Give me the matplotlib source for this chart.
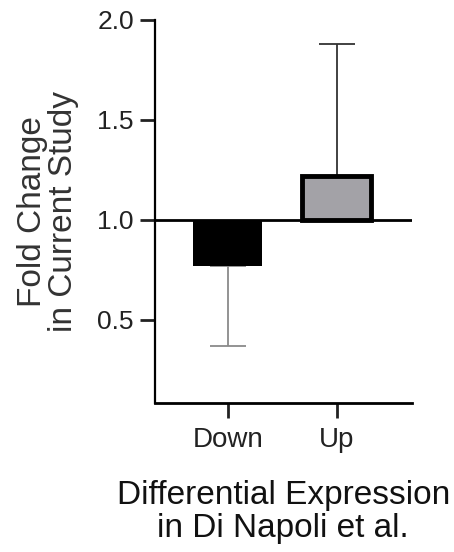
import matplotlib.pyplot as plt

categories = ['Down', 'Up']
fold_change = [0.77, 1.22]
err_low = [0.40, 0.0]
err_high = [0.0, 0.66]
bar_colors = ['#000000', '#a3a2a7']
err_colors = ['#8a8a8a', '#333333']

plt.rcParams['font.family'] = ['Liberation Sans', 'DejaVu Sans']

fig = plt.figure(figsize=(4.54, 5.52), dpi=100)
ax = fig.add_axes([0.341, 0.270, 0.566, 0.694])

x = list(range(len(categories)))
heights = [v - 1.0 for v in fold_change]
ax.bar(x, heights, bottom=1.0, width=0.63, color=bar_colors,
       edgecolor='black', linewidth=[0, 3.5], zorder=2)

for i in x:
    top = fold_change[i]
    ax.errorbar(i, top, yerr=[[err_low[i]], [err_high[i]]], fmt='none',
                ecolor=err_colors[i], elinewidth=1.3, capsize=13,
                capthick=1.3, zorder=1)

ax.axhline(1.0, color='black', linewidth=2, zorder=3)

ax.set_xlim(-0.67, 1.69)
ax.set_ylim(0.085, 2.0)
ax.set_yticks([0.5, 1.0, 1.5, 2.0])
ax.set_yticklabels(['0.5', '1.0', '1.5', '2.0'])
ax.set_xticks(x)
ax.set_xticklabels(categories)

for s in ['top', 'right']:
    ax.spines[s].set_visible(False)
ax.spines['left'].set_linewidth(1.6)
ax.spines['bottom'].set_linewidth(2)
ax.tick_params(axis='both', width=2, length=11, colors='#222222')
ax.tick_params(axis='y', labelsize=19, pad=4)
ax.tick_params(axis='x', labelsize=20, pad=6)

ax.set_ylabel('Fold Change\nin Current Study', fontsize=24, color='#333333',
              linespacing=1.0, labelpad=13)
ax.set_xlabel('Differential Expression\nin Di Napoli et al.', fontsize=24,
              color='#111111', linespacing=1.05, labelpad=20)

fig.savefig('out.png', dpi=100)
